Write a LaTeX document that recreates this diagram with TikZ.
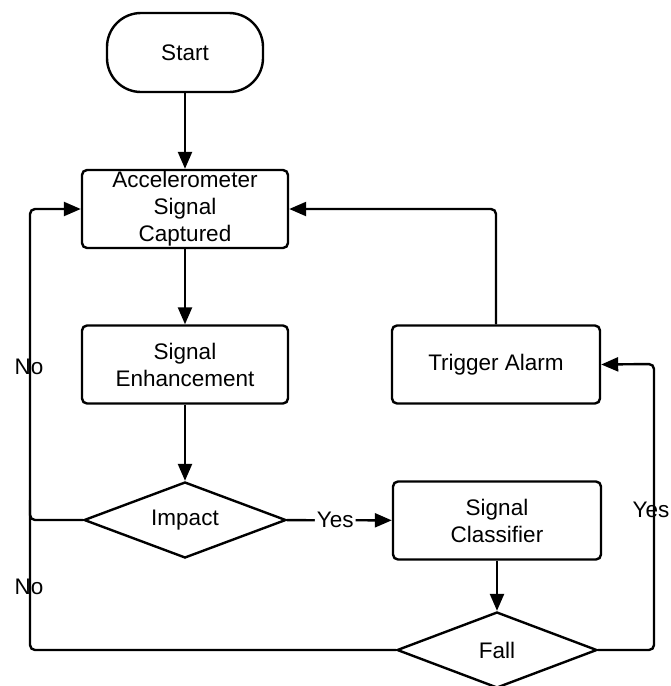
\documentclass[tikz,border=0pt]{standalone}
\usepackage{fontspec}
\setmainfont{Liberation Sans}
\usetikzlibrary{shapes.geometric,arrows.meta}
\begin{document}
\begin{tikzpicture}[x=1pt,y=-1pt,
  line width=2.4pt,
  every node/.style={font=\fontsize{22.5}{27}\selectfont},
  procbox/.style={draw, rounded corners=5pt, minimum width=206pt, minimum height=78pt, align=center, inner sep=0pt},
  terminal/.style={draw, rounded corners=34pt, minimum width=156pt, minimum height=79pt, inner sep=0pt},
  decision/.style={draw, diamond, aspect=2.6, minimum width=202pt, minimum height=76pt, inner sep=0pt},
  flow/.style={-{Triangle[length=17pt,width=14pt]}, rounded corners=5pt},
  plain/.style={rounded corners=5pt},
  lbl/.style={inner sep=0pt}
]
\useasboundingbox (0,0) rectangle (671,686);

% nodes
\node[terminal] (start) at (185,52.5) {Start};
\node[procbox] (acc) at (185,209) {Accelerometer\\Signal\\Captured};
\node[procbox] (enh) at (185,364.5) {Signal\\Enhancement};
\node[decision] (impact) at (185,520) {Impact};
\node[procbox, minimum width=208pt] (cls) at (497,520.5) {Signal\\Classifier};
\node[decision, minimum width=200pt] (fall) at (497,650) {Fall};
\node[procbox, minimum width=208pt] (alarm) at (496,364.5) {Trigger Alarm};

% loop corners
\coordinate (lt) at (30,209);
\coordinate (lb) at (30,650);
\coordinate (li) at (30,520);
\coordinate (rb) at (654,650);
\coordinate (rt) at (654,364);
\coordinate (at) at (496,209);

% main flow
\draw[flow] (start) -- (acc);
\draw[flow] (acc) -- (enh);
\draw[flow] (enh) -- (impact);
\draw[flow] (impact) -- node[lbl, fill=white, inner xsep=2pt, xshift=-4pt] {Yes} (cls);
\draw[flow] (cls) -- (fall);

% "No" branches back to the capture step
\draw[flow] (fall.west) -- (lb) -- (lt) -- (acc.west);
\draw[plain] (impact.west) -- (li) -- (30,500);
\node[lbl] (no1) at (29,367) {No};
\node[lbl] (no2) at (29,587) {No};

% "Yes" branch to the alarm and back
\draw[flow] (fall.east) -- (rb) -- (rt) -- (alarm.east);
\node[lbl] (yes2) at (651,510) {Yes};
\draw[flow] (alarm.north) -- (at) -- (acc.east);
\end{tikzpicture}
\end{document}
